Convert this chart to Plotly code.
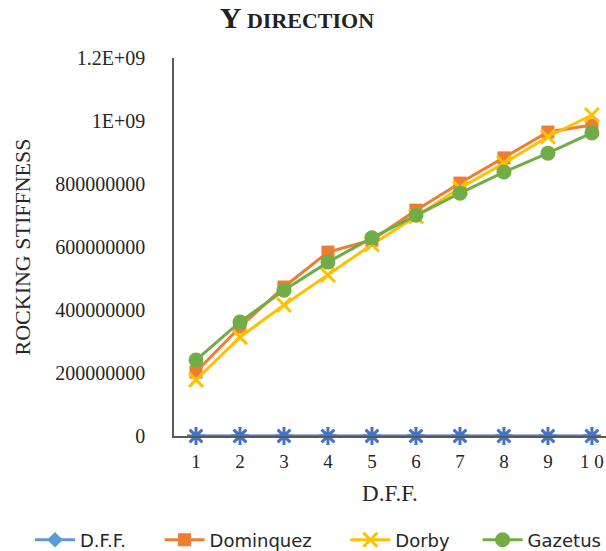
import plotly.graph_objects as go

dff_x = [1, 2, 3, 4, 5, 6, 7, 8, 9, 10]
dff = [0, 0, 0, 0, 0, 0, 0, 0, 0, 0]
dominquez = [203e6, 346e6, 473e6, 584e6, 622e6, 717e6, 803e6, 883e6, 965e6, 987e6]
dorby = [178e6, 314e6, 416e6, 511e6, 608e6, 697e6, 787e6, 866e6, 950e6, 1019e6]
gazetus = [241e6, 362e6, 463e6, 552e6, 629e6, 701e6, 771e6, 838e6, 898e6, 962e6]

y_tickvals = [0, 200e6, 400e6, 600e6, 800e6, 1000e6, 1200e6]
y_ticktext = ["0", "200000000", "400000000", "600000000", "800000000", "1E+09", "1.2E+09"]
x_ticktext = ["1", "2", "3", "4", "5", "6", "7", "8", "9", "1 0"]

NB = "\u00a0"  # spacing between legend entries

fig = go.Figure()

fig.add_trace(go.Scatter(x=dff_x, y=dominquez, name="Dominquez" + NB * 5, mode="lines+markers",
                         line=dict(color="#ED7D31", width=3),
                         marker=dict(symbol="square", size=13, color="#ED7D31"),
                         legendrank=2))
fig.add_trace(go.Scatter(x=dff_x, y=dorby, name="Dorby" + NB * 4, mode="lines+markers",
                         line=dict(color="#FFC000", width=3),
                         marker=dict(symbol="x-thin", size=14, color="#FFC000",
                                     line=dict(color="#FFC000", width=3)),
                         legendrank=3))
fig.add_trace(go.Scatter(x=dff_x, y=gazetus, name="Gazetus", mode="lines+markers",
                         line=dict(color="#70AD47", width=3),
                         marker=dict(symbol="circle", size=15, color="#70AD47"),
                         legendrank=4))
fig.add_trace(go.Scatter(x=dff_x, y=dff, name="D.F.F.", mode="lines+markers",
                         line=dict(color="#4472C4", width=3), showlegend=False,
                         cliponaxis=False,
                         marker=dict(symbol="asterisk-open", size=15, color="#4472C4",
                                     line=dict(color="#4472C4", width=3))))
# legend entry for D.F.F. (diamond in the reference legend)
fig.add_trace(go.Scatter(x=[None], y=[None], name="D.F.F." + NB * 5, mode="lines+markers",
                         line=dict(color="#5B9BD5", width=3),
                         marker=dict(symbol="diamond", size=12, color="#5B9BD5"),
                         legendrank=1))

fig.update_layout(
    width=606, height=551,
    margin=dict(l=174, r=0, t=58, b=115, autoexpand=False),
    paper_bgcolor="white", plot_bgcolor="white",
    title=dict(text="<b><span style='font-size:30px'>Y</span> DIRECTION</b>",
               x=0.49, xanchor="center", xref="container",
               y=1 - 20 / 551, yanchor="middle", yref="container",
               font=dict(family="Liberation Serif", size=22, color="#222222")),
    legend=dict(orientation="h", x=(30 - 174) / 432, xanchor="left", xref="paper",
                y=-(540 - 436) / 378, yanchor="middle", yref="paper",
                font=dict(family="DejaVu Sans", size=18, color="#262626"),
                traceorder="normal", itemwidth=40),
    showlegend=True,
)
fig.update_xaxes(range=[0.5, 10.32], tickvals=dff_x, ticktext=x_ticktext,
                 showgrid=False, zeroline=False, showline=True, linecolor="#595959",
                 linewidth=1.5, ticks="", ticklabelstandoff=7,
                 tickfont=dict(family="Liberation Serif", size=19, color="#262626"),
                 title=dict(text="D.F.F.", font=dict(family="Liberation Serif", size=23, color="#262626"),
                            standoff=14))
fig.update_yaxes(range=[0, 1.2e9], tickvals=y_tickvals, ticktext=y_ticktext,
                 showgrid=False, zeroline=False, showline=True, linecolor="#595959",
                 linewidth=1.5, ticks="", ticklabelstandoff=23,
                 tickfont=dict(family="Liberation Serif", size=20, color="#262626"),
                 title=dict(text="ROCKING STIFFNESS",
                            font=dict(family="Liberation Serif", size=22, color="#262626"),
                            standoff=19))

fig.write_html("out.html")
